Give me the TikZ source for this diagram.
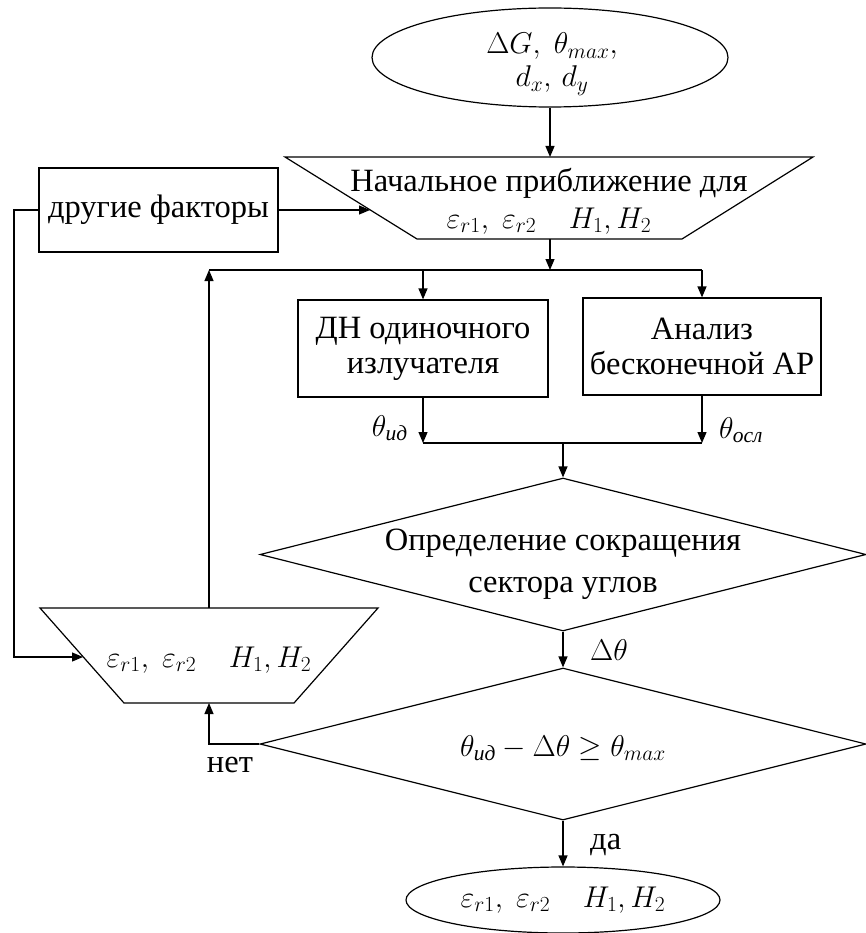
\RequirePackage{fix-cm}
\documentclass[tikz,border=0pt]{standalone}
\usepackage{amsmath}
\usepackage{fontspec}
\setmainfont{Liberation Serif}
\DeclareMathSizes{32.5}{30}{21.5}{16}
\usetikzlibrary{shapes.geometric,arrows.meta}
\newcommand{\epsline}{$\varepsilon_{r1},\ \varepsilon_{r2}\quad H_1, H_2$}
\begin{document}
\begin{tikzpicture}[x=1pt,y=-1pt,
  font=\fontsize{32.5}{37}\selectfont,
  line/.style={line width=1.2pt},
  arr/.style={line width=1.2pt,-{Triangle[length=11pt,width=9pt]}},
  box/.style={draw,line width=1.2pt,rectangle,inner sep=0pt,align=center},
  ell/.style={draw,line width=1.2pt,ellipse,inner sep=0pt,align=center},
  dia/.style={draw,line width=1.2pt,diamond,inner sep=0pt},
  txt/.style={inner sep=0pt,align=center}]
\useasboundingbox (0,0) rectangle (865,933);

% start ellipse
\node[ell,minimum width=356pt,minimum height=99pt] (start) at (550,57.5) {};
\node[txt] (starttext) at (552,64) {$\Delta G,\ \theta_{max},$\\[-4pt]$d_x,\, d_y$};

% first trapezium
\draw[line] (285,157) -- (813,157) -- (682,239) -- (417,239) -- cycle;
\coordinate (trAtop) at (550,157);
\coordinate (trAbot) at (550,239);
\coordinate (trAleft) at (370,210);
\node[txt] (trAtext) at (549,201) {Начальное приближение для\\[0pt]\epsline};

% other factors
\node[box,minimum width=239pt,minimum height=84pt] (other) at (158.5,210) {другие факторы};

% junction 1
\coordinate (jA) at (209,270);
\coordinate (jAm) at (550,270);

% boxes
\node[box,minimum width=250pt,minimum height=97pt] (b1) at (423,348.5) {ДН одиночного\\[-2pt]излучателя};
\node[box,minimum width=238pt,minimum height=97pt] (b2) at (702,346.5) {Анализ\\[-2pt]бесконечной АР};

% junction 2
\coordinate (jB) at (563,443);
\node[txt,anchor=east] (lid) at (408,428) {$\theta_{\text{\itshape ид}}$};
\node[txt,anchor=west] (losl) at (719,430) {$\theta_{\text{\itshape осл}}$};

% diamond 1
\node[dia,minimum width=606pt,minimum height=153pt] (d1) at (563,554.5) {};
\node[txt] (d1text) at (563,564) {Определение сокращения\\[5pt]сектора углов};
\node[txt,anchor=west] (dth) at (590,650) {$\Delta\theta$};

% diamond 2
\node[dia,minimum width=606pt,minimum height=152pt] (d2) at (563,744) {};
\node[txt] (d2text) at (563,748) {$\theta_{\text{\itshape ид}} - \Delta\theta \geq \theta_{max}$};

% end ellipse
\node[ell,minimum width=314pt,minimum height=66pt] (fin) at (563,900) {\epsline};
\node[txt,anchor=west] (yes) at (590,845) {да};
\node[txt] (no) at (230,765) {нет};

% second trapezium
\draw[line] (40,608) -- (378,608) -- (294,703) -- (124,703) -- cycle;
\coordinate (trBtop) at (209,608);
\coordinate (trBbot) at (209,703);
\coordinate (trBleft) at (83,657);
\node[txt] (trBtext) at (209,660) {\epsline};

\coordinate (lf) at (14,210);

% connectors
\draw[arr] (start.south) -- (trAtop);
\draw[arr] (other.east) -- (trAleft);
\draw[arr] (trAbot) -- (jAm);
\draw[arr] (trBtop) -- (jA);
\draw[line] (jA) -- (jA -| b2.north);
\draw[arr] (jA -| b1.north) -- (b1.north);
\draw[arr] (jA -| b2.north) -- (b2.north);
\draw[arr] (b1.south) -- (b1.south |- jB);
\draw[arr] (b2.south) -- (b2.south |- jB);
\draw[line] (b1.south |- jB) -- (b2.south |- jB);
\draw[arr] (jB) -- (d1.north);
\draw[arr] (d1.south) -- (d2.north);
\draw[arr] (d2.south) -- (fin.north);
\draw[arr] (d2.west) -- (trBbot |- d2.west) -- (trBbot);
\draw[arr] (other.west) -- (lf) |- (trBleft);
\end{tikzpicture}
\end{document}
